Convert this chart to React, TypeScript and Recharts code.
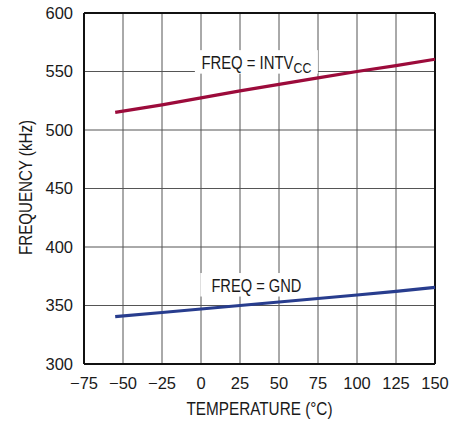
import {
  LineChart,
  Line,
  XAxis,
  YAxis,
  CartesianGrid,
  ReferenceLine,
  ReferenceDot,
} from "recharts";

const temps = [-55, -25, 0, 25, 50, 75, 100, 125, 150];
const freqIntvcc = [515, 521.5, 527.5, 533.5, 539, 544.5, 550, 555, 560.5];
const freqGnd = [340.5, 344, 347, 350, 353, 356, 359, 362, 365.5];

const xTicks = [-75, -50, -25, 0, 25, 50, 75, 100, 125, 150];
const yTicks = [300, 350, 400, 450, 500, 550, 600];

const data = temps.map((t, i) => ({ temp: t, intvcc: freqIntvcc[i], gnd: freqGnd[i] }));

const FONT = "'Liberation Sans', Arial, sans-serif";

const fmt = (v: number) => (v < 0 ? `\u2212${Math.abs(v)}` : `${v}`);

// white box behind the in-plot labels; text squeezed to look condensed
function BoxLabel({ viewBox, text, sub, w, len }: any) {
  const cx = viewBox.x + (viewBox.width || 0) / 2;
  const cy = viewBox.y + (viewBox.height || 0) / 2;
  return (
    <g>
      <rect x={cx - w / 2} y={cy - 12} width={w} height={23.5} fill="#fff" />
      <text
        x={cx}
        y={cy + 6.5}
        textAnchor="middle"
        fontFamily={FONT}
        fontSize={18}
        fill="#1a1a1a"
        textLength={len}
        lengthAdjust="spacingAndGlyphs"
      >
        {text}
        {sub && (
          <tspan fontSize={15} dy={4}>
            {sub}
          </tspan>
        )}
      </text>
    </g>
  );
}

export default function App() {
  return (
    <div style={{ position: "absolute", left: 0, top: 0, width: 465, height: 423, background: "#fff" }}>
      <LineChart
        width={465}
        height={423}
        data={data}
        margin={{ top: 13, right: 30, left: 0, bottom: 0 }}
      >
        <CartesianGrid stroke="#555" strokeWidth={1} />
        <XAxis
          dataKey="temp"
          type="number"
          domain={[-75, 150]}
          ticks={xTicks}
          tickFormatter={fmt}
          height={59}
          tickLine={false}
          tickSize={0}
          tickMargin={13}
          axisLine={{ stroke: "#111", strokeWidth: 2 }}
          tick={{ fill: "#1a1a1a", fontSize: 16.5, fontFamily: FONT }}
          interval={0}
          label={{
            content: ({ viewBox }: any) => (
              <text
                x={viewBox.x + viewBox.width / 2}
                y={viewBox.y + 51}
                textAnchor="middle"
                fontFamily={FONT}
                fontSize={18}
                fill="#1a1a1a"
                textLength={146}
                lengthAdjust="spacingAndGlyphs"
              >
                TEMPERATURE (°C)
              </text>
            ),
          }}
        />
        <YAxis
          type="number"
          domain={[300, 600]}
          ticks={yTicks}
          width={84}
          tickLine={false}
          tickSize={0}
          tickMargin={11}
          axisLine={{ stroke: "#111", strokeWidth: 2 }}
          tick={{ fill: "#1a1a1a", fontSize: 16.5, fontFamily: FONT }}
          interval={0}
          label={{
            content: ({ viewBox }: any) => {
              const x = viewBox.x + 32;
              const y = viewBox.y + viewBox.height / 2 - 1;
              return (
                <text
                  x={x}
                  y={y}
                  transform={`rotate(-90, ${x}, ${y})`}
                  textAnchor="middle"
                  fontFamily={FONT}
                  fontSize={18}
                  fill="#1a1a1a"
                  textLength={135}
                  lengthAdjust="spacingAndGlyphs"
                >
                  FREQUENCY (kHz)
                </text>
              );
            },
          }}
        />
        <ReferenceLine y={600} stroke="#111" strokeWidth={2} />
        <ReferenceLine x={150} stroke="#111" strokeWidth={2} />
        <ReferenceDot
          x={35.5}
          y={558}
          r={0}
          fill="none"
          stroke="none"
          label={{ content: (p: any) => <BoxLabel {...p} text="FREQ = INTV" sub="CC" w={123} len={110} /> }}
        />
        <ReferenceDot
          x={35.5}
          y={367.5}
          r={0}
          fill="none"
          stroke="none"
          label={{ content: (p: any) => <BoxLabel {...p} text="FREQ = GND" w={112} len={90} /> }}
        />
        <Line
          type="linear"
          dataKey="intvcc"
          stroke="#9c0b3b"
          strokeWidth={3.2}
          dot={false}
          isAnimationActive={false}
        />
        <Line
          type="linear"
          dataKey="gnd"
          stroke="#283d8e"
          strokeWidth={3.2}
          dot={false}
          isAnimationActive={false}
        />
      </LineChart>
    </div>
  );
}
